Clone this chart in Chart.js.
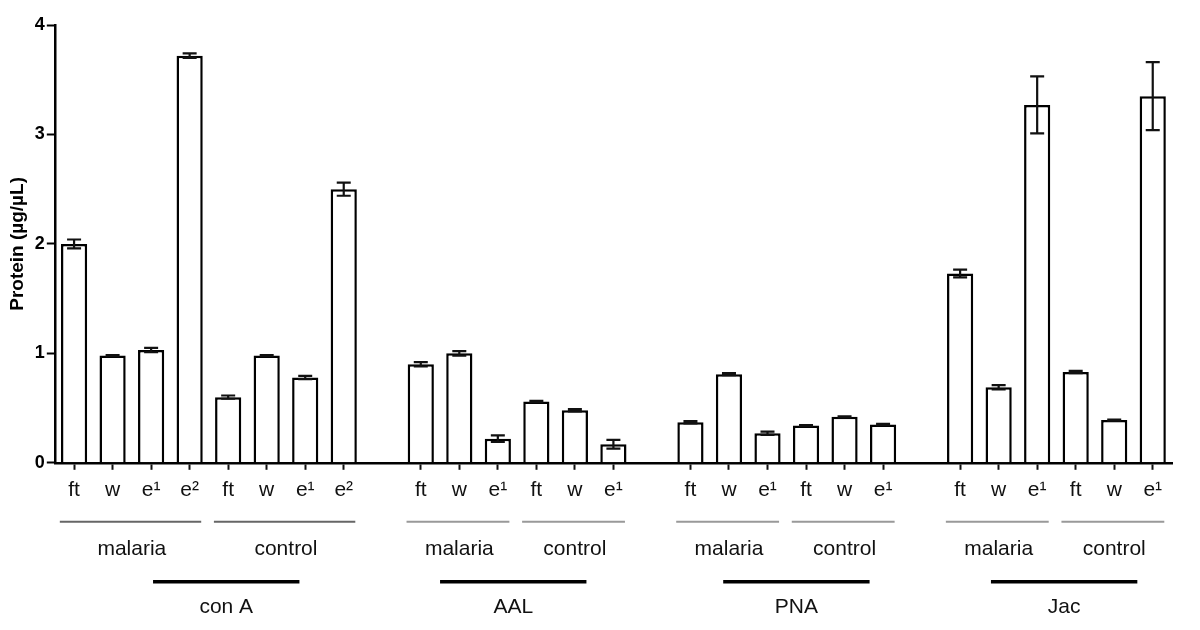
<!DOCTYPE html>
<html>
<head>
  <meta charset="utf-8">
  <title>Protein by lectin fraction</title>
  <script src="https://cdn.jsdelivr.net/npm/chart.js"></script>
  <style>
    html, body { margin: 0; padding: 0; background: #fff; }
    #wrap { width: 1200px; height: 630px; }
  </style>
</head>
<body>
  <div id="wrap"><canvas id="proteinChart" width="1200" height="630"></canvas></div>

  <script>
    // one slot per bar, empty slots ('' / null) are the gaps between lectins
    const fractions = ['ft','w','e¹','e²','ft','w','e¹','e²','',
                       'ft','w','e¹','ft','w','e¹','',
                       'ft','w','e¹','ft','w','e¹','',
                       'ft','w','e¹','ft','w','e¹'];
    const protein = [2.00,0.98,1.03,3.72,0.60,0.98,0.78,2.50,null,
                     0.90,1.00,0.22,0.56,0.48,0.17,null,
                     0.37,0.81,0.27,0.34,0.42,0.35,null,
                     1.73,0.69,3.27,0.83,0.39,3.35];
    const sem = [0.04,0.005,0.02,0.02,0.015,0.005,0.015,0.06,null,
                 0.02,0.02,0.03,0.005,0.01,0.04,null,
                 0.01,0.01,0.015,0.005,0.005,0.005,null,
                 0.035,0.02,0.26,0.01,0.005,0.31];
    const yTicks = [0, 1, 2, 3, 4];

    // sample groups (slot ranges) and lectin groups
    const samples = [
      { name: 'malaria', from: 0, to: 3, dark: true },
      { name: 'control', from: 4, to: 7, dark: true },
      { name: 'malaria', from: 9, to: 11 },
      { name: 'control', from: 12, to: 14 },
      { name: 'malaria', from: 16, to: 18 },
      { name: 'control', from: 19, to: 21 },
      { name: 'malaria', from: 23, to: 25 },
      { name: 'control', from: 26, to: 28 }
    ];
    const lectins = ['con A', 'AAL', 'PNA', 'Jac'];
    const lectinCenter = [3.95, 11.4, 18.75, 25.7];

    const FONT = '"Liberation Sans", Arial, sans-serif';

    const errorBars = {
      id: 'errorBars',
      afterDatasetsDraw(chart) {
        const { ctx, scales: { y } } = chart;
        const meta = chart.getDatasetMeta(0);
        ctx.save();
        ctx.strokeStyle = '#111';
        ctx.lineWidth = 2.2;
        protein.forEach((v, i) => {
          if (v === null) return;
          const x = meta.data[i].x;
          const top = y.getPixelForValue(v + sem[i]);
          const bot = y.getPixelForValue(v - sem[i]);
          ctx.beginPath();
          ctx.moveTo(x, top); ctx.lineTo(x, bot);
          ctx.moveTo(x - 7, top); ctx.lineTo(x + 7, top);
          ctx.moveTo(x - 7, bot); ctx.lineTo(x + 7, bot);
          ctx.stroke();
        });
        ctx.restore();
      }
    };

    const groupLabels = {
      id: 'groupLabels',
      afterDraw(chart) {
        const { ctx, chartArea, scales: { x } } = chart;
        const base = chartArea.bottom;
        ctx.save();
        ctx.textAlign = 'center';
        ctx.textBaseline = 'middle';
        ctx.font = '21px ' + FONT;
        samples.forEach(s => {
          const x0 = x.getPixelForValue(s.from - 0.37);
          const x1 = x.getPixelForValue(s.to + 0.3);
          ctx.strokeStyle = s.dark ? '#666' : '#999';
          ctx.lineWidth = 2;
          ctx.beginPath();
          ctx.moveTo(x0, base + 59); ctx.lineTo(x1, base + 59);
          ctx.stroke();
          ctx.fillStyle = '#111';
          ctx.fillText(s.name, x.getPixelForValue((s.from + s.to) / 2), base + 86);
        });
        lectins.forEach((name, i) => {
          const c = lectinCenter[i];
          ctx.strokeStyle = '#000';
          ctx.lineWidth = 3.5;
          ctx.beginPath();
          ctx.moveTo(x.getPixelForValue(c - 1.9), base + 119);
          ctx.lineTo(x.getPixelForValue(c + 1.9), base + 119);
          ctx.stroke();
          ctx.fillStyle = '#111';
          ctx.fillText(name, x.getPixelForValue(c), base + 144);
        });
        ctx.restore();
      }
    };

    new Chart(document.getElementById('proteinChart'), {
      type: 'bar',
      data: {
        labels: fractions,
        datasets: [{
          data: protein,
          backgroundColor: '#fff',
          borderColor: '#000',
          borderWidth: 2.5,
          borderSkipped: 'start',
          barPercentage: 0.68,
          categoryPercentage: 1
        }]
      },
      options: {
        responsive: false,
        animation: false,
        layout: { padding: { top: 25, right: 28, bottom: 119, left: 6 } },
        plugins: { legend: { display: false }, tooltip: { enabled: false } },
        scales: {
          x: {
            offset: true,
            grid: {
              offset: false,
              drawOnChartArea: false,
              tickLength: 7,
              tickWidth: 2,
              tickColor: c => (fractions[c.index] ? '#111' : 'rgba(0,0,0,0)')
            },
            border: { color: '#000', width: 2.5 },
            ticks: { color: '#111', font: { family: FONT, size: 21 }, padding: 8, autoSkip: false, maxRotation: 0 }
          },
          y: {
            min: 0, max: 4,
            afterBuildTicks: s => { s.ticks = yTicks.map(v => ({ value: v })); },
            grid: { drawOnChartArea: false, tickLength: 8, tickWidth: 2, tickColor: '#000' },
            border: { color: '#000', width: 2.5 },
            ticks: { color: '#000', font: { family: FONT, size: 18, weight: 'bold' }, padding: 2 },
            title: { display: true, text: 'Protein (µg/µL)', color: '#000', font: { family: FONT, size: 19, weight: 'bold' }, padding: { top: 0, bottom: 4 } }
          }
        }
      },
      plugins: [errorBars, groupLabels]
    });
  </script>
</body>
</html>
